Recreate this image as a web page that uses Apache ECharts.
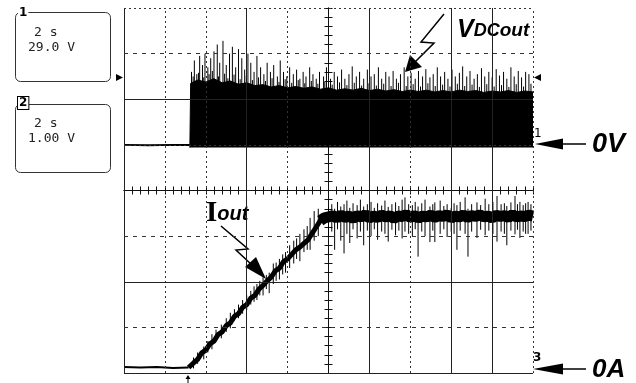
<!DOCTYPE html>
<html><head><meta charset="utf-8">
<script src="https://cdn.jsdelivr.net/npm/echarts@6/dist/echarts.min.js"></script>
<style>html,body{margin:0;padding:0;background:#fff}#c{width:636px;height:383px}</style>
</head><body><div id="c"></div>
<script>
// ---- data (oscilloscope divisions: x -5..5, y -4..4) ----
const gridXSolid = [-5, -2, 1, 3, 4];
const gridXDotted = [-4, -3, -1, 2, 5];
const gridYSolid = [2, -2, -4];
const gridYDotted = [4, 1];
const gridYDashed = [3, -1, -3];

// channel 1: VDCout
const ch1FlatX = [-5, -4.4, -3.8, -3.39];
const ch1FlatY = [1.0, 0.99, 1.0, 1.0];
const ch1BandBase = 0.94;
const ch1BandX = [-3.39, -3.37, -3.2, -3.0, -2.8, -2.6, -2.4, -2.2, -2.0, -1.8, -1.6, -1.4, -1.2, -1.0, -0.8, -0.6, -0.4, -0.2, 0, 0.2, 0.4, 0.6, 0.8, 1.0, 1.2, 1.4, 1.6, 1.8, 2.0, 2.2, 2.4, 2.6, 2.8, 3.0, 3.2, 3.4, 3.6, 3.8, 4.0, 4.2, 4.4, 4.6, 4.8, 5.0];
const ch1BandTop = [0.94, 2.35, 2.42, 2.38, 2.45, 2.36, 2.40, 2.33, 2.36, 2.30, 2.32, 2.27, 2.30, 2.25, 2.28, 2.24, 2.27, 2.22, 2.25, 2.20, 2.23, 2.20, 2.24, 2.19, 2.22, 2.18, 2.21, 2.17, 2.20, 2.17, 2.20, 2.16, 2.19, 2.16, 2.20, 2.17, 2.19, 2.15, 2.18, 2.16, 2.19, 2.15, 2.18, 2.16];
const ch1SpikeX = [-3.35, -3.28, -3.22, -3.15, -3.08, -3.02, -2.95, -2.88, -2.80, -2.72, -2.66, -2.58, -2.50, -2.42, -2.35, -2.27, -2.20, -2.12, -2.05, -1.97, -1.90, -1.82, -1.75, -1.66, -1.58, -1.50, -1.42, -1.34, -1.25, -1.18, -1.10, -1.02, -0.95, -0.86, -0.78, -0.70, -0.62, -0.55, -0.46, -0.38, -0.30, -0.22, -0.12, -0.05, 0.05, 0.14, 0.22, 0.32, 0.40, 0.50, 0.58, 0.68, 0.76, 0.86, 0.95, 1.04, 1.12, 1.22, 1.30, 1.40, 1.48, 1.58, 1.66, 1.76, 1.85, 1.94, 2.02, 2.12, 2.20, 2.30, 2.38, 2.48, 2.56, 2.66, 2.74, 2.84, 2.92, 3.02, 3.10, 3.20, 3.28, 3.38, 3.46, 3.56, 3.64, 3.74, 3.82, 3.92, 4.00, 4.10, 4.18, 4.28, 4.36, 4.46, 4.54, 4.64, 4.72, 4.82, 4.90];
const ch1SpikeTop = [2.60, 2.85, 2.55, 2.95, 2.75, 3.00, 2.70, 2.90, 3.05, 3.20, 2.80, 3.28, 2.75, 3.00, 3.15, 2.70, 3.10, 2.90, 2.65, 3.00, 2.80, 2.60, 2.95, 2.70, 2.55, 2.80, 2.60, 2.75, 2.50, 2.85, 2.60, 2.50, 2.70, 2.55, 2.65, 2.45, 2.60, 2.50, 2.70, 2.55, 2.45, 2.60, 2.50, 2.70, 2.45, 2.60, 2.50, 2.65, 2.45, 2.55, 2.72, 2.50, 2.60, 2.45, 2.65, 2.50, 2.55, 2.70, 2.45, 2.60, 2.50, 2.62, 2.45, 2.55, 2.70, 2.50, 2.58, 2.45, 2.62, 2.50, 2.66, 2.48, 2.55, 2.70, 2.50, 2.60, 2.45, 2.65, 2.50, 2.58, 2.72, 2.50, 2.62, 2.45, 2.55, 2.68, 2.50, 2.60, 2.48, 2.66, 2.52, 2.60, 2.45, 2.70, 2.50, 2.62, 2.48, 2.60, 2.55];
// short spikes between the tall ones (roughen the band top)
const ch1ShortX = [-3.31, -3.18, -3.05, -2.92, -2.84, -2.69, -2.54, -2.46, -2.31, -2.16, -2.01, -1.86, -1.71, -1.54, -1.38, -1.21, -1.06, -0.90, -0.74, -0.58, -0.42, -0.26, -0.09, 0.09, 0.27, 0.45, 0.63, 0.81, 0.99, 1.17, 1.35, 1.53, 1.71, 1.90, 2.07, 2.25, 2.43, 2.61, 2.79, 2.97, 3.15, 3.33, 3.51, 3.69, 3.87, 4.05, 4.23, 4.41, 4.59, 4.77, 4.95];
const ch1ShortTop = [2.50, 2.58, 2.48, 2.55, 2.62, 2.50, 2.56, 2.46, 2.54, 2.44, 2.52, 2.42, 2.48, 2.40, 2.46, 2.38, 2.44, 2.36, 2.42, 2.35, 2.40, 2.34, 2.38, 2.32, 2.37, 2.31, 2.36, 2.30, 2.35, 2.30, 2.34, 2.29, 2.36, 2.29, 2.33, 2.28, 2.35, 2.29, 2.32, 2.28, 2.34, 2.29, 2.32, 2.27, 2.33, 2.28, 2.31, 2.27, 2.33, 2.28, 2.34];

// channel 2: Iout
const ch2FlatX = [-5, -4.6, -4.2, -3.8, -3.42];
const ch2FlatY = [-3.87, -3.88, -3.87, -3.89, -3.88];
const ch2RampX = [-3.42, -3.3, -3.2, -3.1, -3.0, -2.9, -2.8, -2.7, -2.6, -2.5, -2.4, -2.3, -2.2, -2.1, -2.0, -1.9, -1.8, -1.7, -1.6, -1.5, -1.4, -1.3, -1.2, -1.1, -1.0, -0.9, -0.8, -0.7, -0.6, -0.5, -0.4, -0.3, -0.2, -0.1];
const ch2RampY = [-3.88, -3.78, -3.70, -3.56, -3.50, -3.36, -3.30, -3.16, -3.10, -2.96, -2.90, -2.76, -2.70, -2.56, -2.50, -2.36, -2.30, -2.16, -2.08, -1.98, -1.90, -1.76, -1.70, -1.56, -1.50, -1.40, -1.30, -1.24, -1.16, -1.08, -0.94, -0.80, -0.66, -0.58];
const ch2PlateauX = [-0.2, -0.1, 0, 0.1, 0.2, 0.3, 0.4, 0.5, 0.6, 0.7, 0.8, 0.9, 1.0, 1.1, 1.2, 1.3, 1.4, 1.5, 1.6, 1.7, 1.8, 1.9, 2.0, 2.1, 2.2, 2.3, 2.4, 2.5, 2.6, 2.7, 2.8, 2.9, 3.0, 3.1, 3.2, 3.3, 3.4, 3.5, 3.6, 3.7, 3.8, 3.9, 4.0, 4.1, 4.2, 4.3, 4.4, 4.5, 4.6, 4.7, 4.8, 4.9, 5.0];
const ch2PlateauY = [-0.66, -0.60, -0.58, -0.55, -0.60, -0.54, -0.59, -0.56, -0.61, -0.55, -0.58, -0.53, -0.60, -0.56, -0.59, -0.54, -0.58, -0.55, -0.61, -0.56, -0.57, -0.53, -0.59, -0.55, -0.60, -0.56, -0.58, -0.54, -0.59, -0.55, -0.57, -0.53, -0.60, -0.56, -0.58, -0.54, -0.59, -0.55, -0.57, -0.53, -0.58, -0.56, -0.60, -0.54, -0.57, -0.55, -0.59, -0.53, -0.58, -0.56, -0.57, -0.54, -0.56];
const ch2SpikeX = [-3.3, -3.2, -3.05, -2.95, -2.85, -2.75, -2.62, -2.5, -2.4, -2.3, -2.2, -2.1, -2.0, -1.9, -1.82, -1.75, -1.68, -1.6, -1.52, -1.45, -1.35, -1.28, -1.2, -1.12, -1.05, -0.95, -0.85, -0.78, -0.7, -0.6, -0.52, -0.45, -0.35, -0.25,
  0.00, 0.08, 0.15, 0.22, 0.30, 0.38, 0.45, 0.52, 0.60, 0.70, 0.78, 0.86, 0.95, 1.04, 1.12, 1.20, 1.30, 1.38, 1.46, 1.55, 1.64, 1.72, 1.80, 1.87, 1.96, 2.05, 2.12, 2.19, 2.28, 2.36, 2.48, 2.55, 2.60, 2.73, 2.82, 2.90, 3.00, 3.07, 3.14, 3.22, 3.34, 3.41, 3.50, 3.63, 3.72, 3.83, 3.92, 4.02, 4.12, 4.22, 4.30, 4.36, 4.46, 4.56, 4.62, 4.68, 4.76, 4.82, 4.88, 4.95];
const ch2SpikeLo = [-3.90, -3.80, -3.70, -3.55, -3.48, -3.30, -3.24, -3.10, -3.02, -2.85, -2.80, -2.70, -2.62, -2.50, -2.44, -2.40, -2.30, -2.30, -2.16, -2.25, -2.05, -1.98, -1.95, -1.84, -1.80, -1.70, -1.60, -1.50, -1.55, -1.35, -1.30, -1.30, -1.10, -1.00,
  -1.00, -0.90, -1.30, -0.85, -1.10, -1.38, -0.95, -1.15, -0.85, -1.05, -0.90, -1.20, -0.88, -1.00, -0.85, -1.08, -0.90, -0.95, -1.12, -0.86, -0.98, -0.88, -1.05, -0.90, -0.95, -1.00, -0.85, -1.45, -0.90, -1.00, -1.13, -0.88, -1.13, -0.95, -0.85, -1.02, -0.90, -0.95, -1.30, -0.88, -0.95, -1.45, -0.90, -1.04, -0.86, -0.98, -0.88, -0.95, -1.12, -0.90, -0.95, -1.20, -0.88, -0.96, -0.86, -1.04, -0.90, -0.95, -0.95, -0.88];
const ch2SpikeHi = [-3.66, -3.55, -3.42, -3.30, -3.15, -3.05, -2.94, -2.80, -2.68, -2.60, -2.50, -2.40, -2.30, -2.20, -2.10, -2.05, -1.98, -1.90, -1.85, -1.80, -1.60, -1.58, -1.50, -1.40, -1.35, -1.20, -1.10, -1.05, -0.95, -0.85, -0.78, -0.60, -0.45, -0.40,
  -0.35, -0.30, -0.40, -0.25, -0.35, -0.30, -0.22, -0.38, -0.28, -0.32, -0.20, -0.35, -0.30, -0.25, -0.38, -0.28, -0.33, -0.22, -0.36, -0.30, -0.26, -0.34, -0.20, -0.15, -0.30, -0.32, -0.25, -0.35, -0.28, -0.20, -0.35, -0.30, -0.26, -0.22, -0.34, -0.30, -0.38, -0.28, -0.32, -0.25, -0.15, -0.40, -0.30, -0.26, -0.32, -0.18, -0.30, -0.25, -0.12, -0.30, -0.28, -0.34, -0.26, -0.12, -0.30, -0.25, -0.32, -0.28, -0.25, -0.30];

const zip = (...arrs) => arrs[0].map((_, i) => arrs.map(a => Array.isArray(a) ? a[i] : a));

const chart = echarts.init(document.getElementById('c'), null, {renderer: 'canvas'});

const gridLines = [];
gridXSolid.forEach(v => gridLines.push({xAxis: v, lineStyle: {type: 'solid', color: '#222', width: 1}}));
gridXDotted.forEach(v => gridLines.push({xAxis: v, lineStyle: {type: [2, 3], color: '#333', width: 1}}));
gridYSolid.forEach(v => gridLines.push({yAxis: v, lineStyle: {type: 'solid', color: '#222', width: 1}}));
gridYDotted.forEach(v => gridLines.push({yAxis: v, lineStyle: {type: [2, 3], color: '#333', width: 1}}));
gridYDashed.forEach(v => gridLines.push({yAxis: v, lineStyle: {type: [4, 5], color: '#333', width: 1}}));

const tickStyle = {color: '#111', width: 1};
const mkX = (pos) => ({
  type: 'value', min: -5, max: 5, interval: 1, position: pos,
  axisLine: {show: true, onZero: true, lineStyle: {color: '#111', width: 1}},
  axisTick: {show: true, length: 4, lineStyle: tickStyle},
  minorTick: {show: true, splitNumber: 5, length: 4, lineStyle: tickStyle},
  axisLabel: {show: false}, splitLine: {show: false}, minorSplitLine: {show: false}
});
const mkY = (pos) => ({
  type: 'value', min: -4, max: 4, interval: 1, position: pos,
  axisLine: {show: true, onZero: true, lineStyle: {color: '#111', width: 1}},
  axisTick: {show: true, length: 4, lineStyle: tickStyle},
  minorTick: {show: true, splitNumber: 5, length: 4, lineStyle: tickStyle},
  axisLabel: {show: false}, splitLine: {show: false}, minorSplitLine: {show: false}
});

const spikeItem = (params, api) => {
  const p1 = api.coord([api.value(0), api.value(1)]);
  const p2 = api.coord([api.value(0), api.value(2)]);
  return {type: 'line', shape: {x1: p1[0], y1: p1[1], x2: p2[0], y2: p2[1]}, style: {stroke: '#000', lineWidth: 1}};
};

const boxFont = '13px "DejaVu Sans Mono"';
const boldIt = (s) => 'italic bold ' + s + 'px "Liberation Sans"';

chart.setOption({
  animation: false,
  backgroundColor: '#fff',
  grid: {left: 124, top: 8, width: 409, height: 365, show: false},
  xAxis: [mkX('bottom'), mkX('top')],
  yAxis: [mkY('left'), mkY('right')],
  series: [
    {type: 'line', z: 1, data: zip(ch1FlatX, ch1FlatY), showSymbol: false, symbol: 'none',
     lineStyle: {color: '#000', width: 2},
     markLine: {silent: true, symbol: ['none', 'none'], label: {show: false}, data: gridLines}},
    {type: 'line', z: 3, data: zip(ch1BandX, ch1BandTop), symbol: 'none',
     lineStyle: {color: '#000', width: 1}, areaStyle: {color: '#000', opacity: 1, origin: ch1BandBase}},
    {type: 'custom', z: 3, renderItem: spikeItem, data: zip(ch1SpikeX, 1.0, ch1SpikeTop), encode: {x: 0, y: [1, 2]}},
    {type: 'custom', z: 3, renderItem: spikeItem, data: zip(ch1ShortX, 1.0, ch1ShortTop), encode: {x: 0, y: [1, 2]}},
    {type: 'line', z: 3, data: zip(ch2FlatX, ch2FlatY), symbol: 'none', lineStyle: {color: '#000', width: 2}},
    {type: 'line', z: 3, data: zip(ch2RampX, ch2RampY), symbol: 'none', lineStyle: {color: '#000', width: 5}},
    {type: 'line', z: 3, data: zip(ch2PlateauX, ch2PlateauY), symbol: 'none', lineStyle: {color: '#000', width: 11}},
    {type: 'custom', z: 3, renderItem: spikeItem, data: zip(ch2SpikeX, ch2SpikeLo, ch2SpikeHi), encode: {x: 0, y: [1, 2]}}
  ],
  graphic: [
    // settings boxes
    {type: 'rect', shape: {x: 15.5, y: 12.5, width: 95, height: 69, r: 5}, style: {fill: 'none', stroke: '#333', lineWidth: 1}},
    {type: 'text', x: 18, y: 7, style: {text: '1', font: 'bold 12px "DejaVu Sans"', fill: '#000', backgroundColor: '#fff', padding: [0, 1]}},
    {type: 'text', x: 34, y: 26, style: {text: '2 s', font: boxFont, fill: '#222'}},
    {type: 'text', x: 28, y: 41, style: {text: '29.0 V', font: boxFont, fill: '#222'}},
    {type: 'rect', shape: {x: 15.5, y: 104.5, width: 95, height: 68, r: 5}, style: {fill: 'none', stroke: '#333', lineWidth: 1}},
    {type: 'text', x: 18, y: 97, style: {text: '2', font: 'bold 12px "DejaVu Sans"', fill: '#000', backgroundColor: '#fff', borderColor: '#000', borderWidth: 1, padding: [0, 1]}},
    {type: 'text', x: 34, y: 117, style: {text: '2 s', font: boxFont, fill: '#222'}},
    {type: 'text', x: 28, y: 132, style: {text: '1.00 V', font: boxFont, fill: '#222'}},
    // channel markers
    {type: 'polygon', shape: {points: [[116, 74], [123, 77.5], [116, 81]]}, style: {fill: '#000'}},
    {type: 'polygon', shape: {points: [[541, 74], [534, 77.5], [541, 81]]}, style: {fill: '#000'}},
    {type: 'text', x: 534, y: 128, style: {text: '1', font: '12px "DejaVu Sans"', fill: '#000'}},
    {type: 'text', x: 533, y: 352, style: {text: '3', font: 'bold 12px "DejaVu Sans"', fill: '#000'}},
    {type: 'polyline', shape: {points: [[188, 383], [188, 376]]}, style: {stroke: '#000', lineWidth: 1}},
    {type: 'polygon', shape: {points: [[185.5, 379], [188, 375], [190.5, 379]]}, style: {fill: '#000'}},
    // 0V / 0A arrows and labels
    {type: 'polyline', shape: {points: [[558, 144], [586, 144]]}, style: {stroke: '#000', lineWidth: 1.5}},
    {type: 'polygon', shape: {points: [[535, 144], [563, 138.5], [563, 149.5]]}, style: {fill: '#000'}},
    {type: 'text', x: 592, y: 145, style: {text: '0V', font: boldIt(27), fill: '#000', textVerticalAlign: 'middle'}},
    {type: 'polyline', shape: {points: [[558, 369], [586, 369]]}, style: {stroke: '#000', lineWidth: 1.5}},
    {type: 'polygon', shape: {points: [[533, 369], [563, 363.5], [563, 374.5]]}, style: {fill: '#000'}},
    {type: 'text', x: 592, y: 370, style: {text: '0A', font: boldIt(26), fill: '#000', textVerticalAlign: 'middle'}},
    // VDCout annotation
    {type: 'polyline', shape: {points: [[444, 14], [421, 42], [434, 43], [414, 63]]}, style: {stroke: '#000', lineWidth: 1.5}},
    {type: 'polygon', shape: {points: [[405, 72], [410, 55], [422, 67]]}, style: {fill: '#000'}},
    {type: 'text', x: 457, y: 43, style: {
      text: '{v|V}{d|DC}{o|out}', textVerticalAlign: 'bottom', fill: '#000',
      rich: {v: {font: boldIt(25), verticalAlign: 'bottom'},
             d: {font: boldIt(18), verticalAlign: 'bottom', padding: [0, 0, 3, 0]},
             o: {font: boldIt(19), verticalAlign: 'bottom', padding: [0, 0, 3, 0]}}}},
    // Iout annotation
    {type: 'polyline', shape: {points: [[221, 226], [248, 249], [236, 250], [252, 265]]}, style: {stroke: '#000', lineWidth: 1.5}},
    {type: 'polygon', shape: {points: [[266, 279], [245, 267], [256, 257]]}, style: {fill: '#000'}},
    {type: 'text', x: 206, y: 228, style: {
      text: '{i|I}{o|out}', textVerticalAlign: 'bottom', fill: '#000',
      rich: {i: {font: 'bold 29px "Liberation Serif"', verticalAlign: 'bottom'},
             o: {font: boldIt(20), verticalAlign: 'bottom', padding: [0, 0, 4, 0]}}}}
  ]
});
</script></body></html>
